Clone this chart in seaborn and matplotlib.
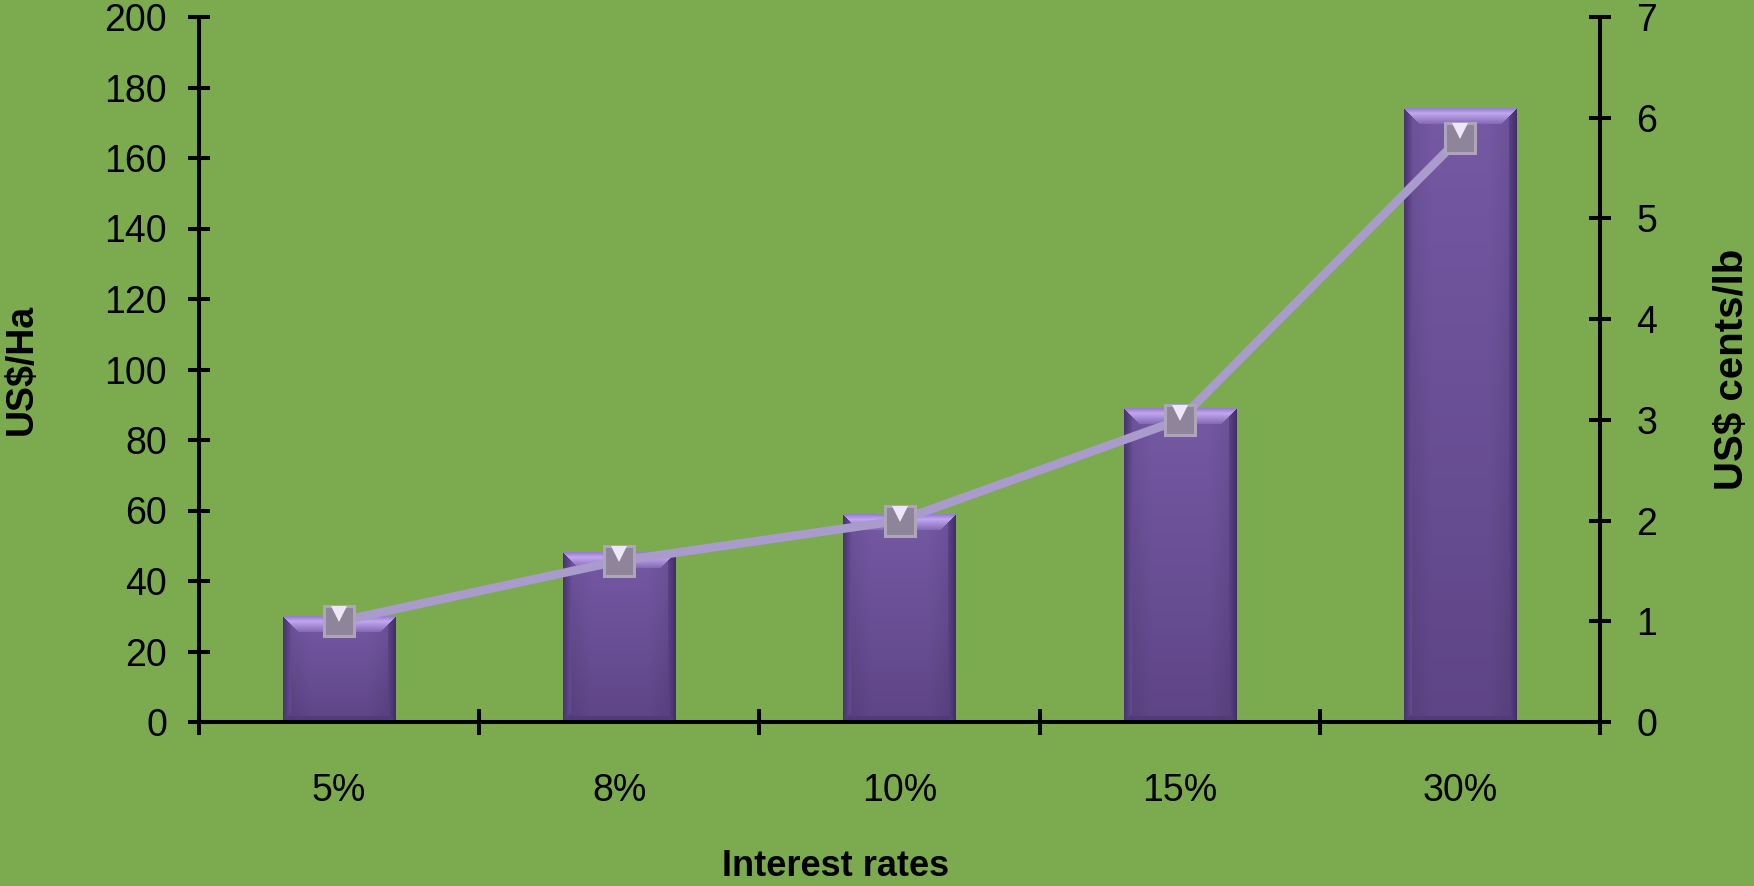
import numpy as np
import pandas as pd
import matplotlib
matplotlib.use("Agg")
import matplotlib.pyplot as plt
import seaborn as sns
from matplotlib.colors import to_rgb
from matplotlib.transforms import offset_copy

# ---- data -------------------------------------------------------------
rates = ["5%", "8%", "10%", "15%", "30%"]
cost_per_ha = [30, 48, 59, 89, 174]          # bars, left axis (US$/Ha)
cents_per_lb = [1.0, 1.6, 2.0, 3.0, 5.8]     # line, right axis (US$ cents/lb)
left_ticks = list(range(0, 201, 20))
right_ticks = list(range(0, 8))

# ---- styling ----------------------------------------------------------
BG = "#7CAA4E"
BAR = "#6F549B"
LINE = "#A99BCB"
FONT = ["Liberation Sans", "DejaVu Sans"]

sns.set_theme(style="ticks")
plt.rcParams["font.family"] = FONT
plt.rcParams["axes.edgecolor"] = "black"
plt.rcParams["axes.labelcolor"] = "black"
plt.rcParams["text.color"] = "black"
plt.rcParams["xtick.color"] = "black"
plt.rcParams["ytick.color"] = "black"
plt.rcParams["xtick.labelcolor"] = "black"
plt.rcParams["ytick.labelcolor"] = "black"

W, H = 1754, 886
fig = plt.figure(figsize=(W / 100, H / 100), dpi=100, facecolor=BG)
ax = fig.add_axes([199 / W, 164 / H, 1401 / W, 705 / H])
ax.set_facecolor(BG)

df = pd.DataFrame({"rate": rates, "cost": cost_per_ha, "cents": cents_per_lb})
df["pos"] = np.arange(len(df))

sns.barplot(data=df, x="rate", y="cost", color=BAR, saturation=1,
            width=0.4, ax=ax, zorder=2, edgecolor="none")
ax.set_xlim(-0.5, len(rates) - 0.5)
ax.set_ylim(0, 200)


def rgb(c):
    return np.array(to_rgb(c))


def ramp(c1, c2, t):
    t = np.asarray(t)[..., None]
    return rgb(c1) * (1 - t) + rgb(c2) * t


def bevel_image(wpx, hpx):
    """Pixel image of a bevelled bar face (light top, dark sides/bottom)."""
    r = np.arange(hpx)[:, None] * np.ones((1, wpx))
    c = np.ones((hpx, 1)) * np.arange(wpx)[None, :]
    dt, db = r, hpx - 1 - r
    dl, dr = c, wpx - 1 - c
    # body: soft vertical gradient, a touch darker near the sides
    img = ramp("#7559A4", "#5E4586", r / max(hpx - 1, 1))
    side = np.clip(np.minimum(dl, dr) / (wpx * 0.25), 0, 1)
    img *= (0.9 + 0.1 * side)[..., None]
    bt, bs, bb = 16, 8, 6
    m = (db < bb) & (db <= dl) & (db <= dr)
    img[m] = rgb("#533B7B")
    m = (dl < bs) & (dl < dt) & (dl < db)
    img[m] = ramp("#4A3372", "#684D94", dl / bs)[m]
    m = (dr < bs) & (dr < dt) & (dr < db)
    img[m] = ramp("#432E69", "#5D4388", dr / bs)[m]
    # top band, lighter, with mitred corners
    m = (dt < bt) & (dt <= dl) & (dt <= dr)
    t = dt / bt
    top = np.where((t < 0.3)[..., None],
                   ramp("#9A7DCD", "#C0A7EF", np.clip(t / 0.3, 0, 1)),
                   ramp("#C0A7EF", "#8165B2", np.clip((t - 0.3) / 0.7, 0, 1)))
    img[m] = top[m]
    return np.clip(img, 0, 1)


# bevel shading laid over each bar, sized from the bar's own geometry
for patch in list(ax.patches):
    x0, w, h = patch.get_x(), patch.get_width(), patch.get_height()
    p0 = ax.transData.transform((x0, 0))
    p1 = ax.transData.transform((x0 + w, h))
    wpx = max(int(round(abs(p1[0] - p0[0]))), 4)
    hpx = max(int(round(abs(p1[1] - p0[1]))), 4)
    ax.imshow(bevel_image(wpx, hpx), extent=(x0, x0 + w, 0, h),
              aspect="auto", interpolation="nearest", zorder=2.5,
              origin="upper")
ax.set_xlim(-0.5, len(rates) - 0.5)
ax.set_ylim(0, 200)

# ---- secondary axis: line ----------------------------------------------
ax2 = ax.twinx()
ax2.patch.set_visible(False)
sns.lineplot(data=df, x="pos", y="cents", ax=ax2, color=LINE, linewidth=6.2,
             marker="s", markersize=22, markerfacecolor="#8F859B",
             markeredgecolor="#ADA5B9", markeredgewidth=2.2, zorder=3)
# glossy highlight on the square markers
ax2.plot(df["pos"], df["cents"], ls="none", marker="v", markersize=12,
         color="#EEE7F8", markeredgewidth=0, zorder=4,
         transform=offset_copy(ax2.transData, fig=fig, x=0, y=7, units="dots"))
ax2.set_ylim(0, 7)
ax2.set_xlim(-0.5, len(rates) - 0.5)
ax2.set_yticks(right_ticks)
ax2.set_xlabel("")

# ---- axes, ticks and labels -------------------------------------------
LW = 2.9
TS = 27
ax.set_xticks(np.arange(-0.5, len(rates), 1.0))
ax.set_xticklabels([])
ax.set_xticks(np.arange(len(rates)), minor=True)
ax.set_xticklabels(rates, minor=True)
ax.tick_params(axis="x", which="major", direction="inout", length=18.7, width=LW)
ax.tick_params(axis="x", which="minor", length=0, pad=37, labelsize=TS)
ax.set_yticks(left_ticks)
ax.tick_params(axis="y", direction="inout", length=16, width=LW, pad=15, labelsize=TS)
ax2.tick_params(axis="y", direction="inout", length=16.5, width=LW, pad=18, labelsize=TS)

for s in ("top", "right"):
    ax.spines[s].set_visible(False)
for s in ("left", "bottom"):
    ax.spines[s].set_linewidth(LW)
for s in ("top", "left", "bottom"):
    ax2.spines[s].set_visible(False)
ax2.spines["right"].set_linewidth(LW)

ax.set_xlabel("Interest rates", fontsize=26, fontweight="bold", color="black")
ax.xaxis.set_label_coords(0.4547, -0.180)
ax.set_ylabel("US$/Ha", fontsize=27, fontweight="bold", color="black")
ax.yaxis.set_label_coords(-0.1135, 0.5)
ax2.set_ylabel("US$ cents/lb", fontsize=29, fontweight="bold", color="black")
ax2.yaxis.set_label_coords(1.0807, 0.5)

fig.savefig("out.png", dpi=100, facecolor=BG)
